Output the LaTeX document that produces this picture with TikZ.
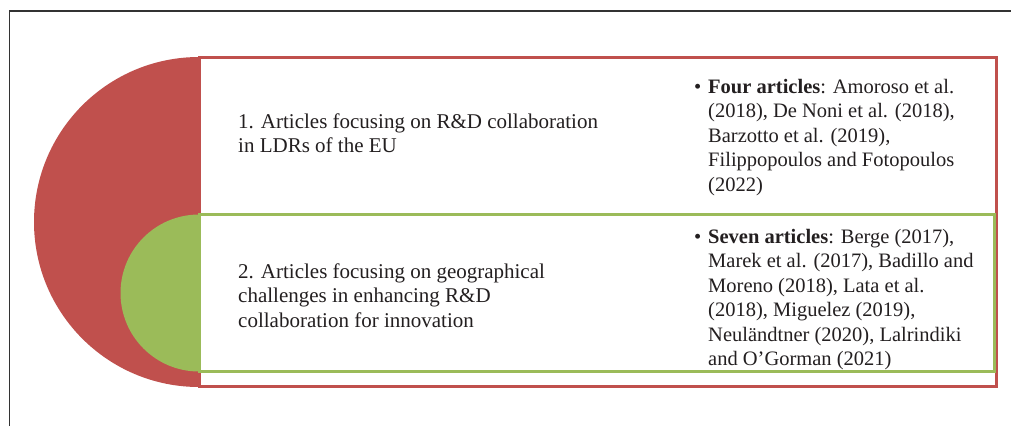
\documentclass[tikz,border=0pt]{standalone}
\usepackage{fontspec}
\setmainfont{Liberation Serif}
\definecolor{cred}{HTML}{C0504D}
\definecolor{cgreen}{HTML}{9BBB59}
\definecolor{ctext}{HTML}{231F20}
\definecolor{cframe}{HTML}{333333}
\begin{document}
\begin{tikzpicture}[x=1pt,y=1pt,
  txt/.style={anchor=base west, inner sep=0pt, align=left, text=ctext,
    font=\fontsize{20.5}{24.5}\selectfont},
  ltxt/.style={txt, font=\fontsize{21}{24.5}\selectfont},
  frameline/.style={line width=1.8pt, draw=cframe},
  redbox/.style={draw=cred, line width=3pt, fill=white},
  greenbox/.style={draw=cgreen, line width=3pt, fill=white}
]
\useasboundingbox (0,0) rectangle (1011,-426);
\fill[white] (0,0) rectangle (1011,-426);
% outer frame
\coordinate (fbl) at (9.5,-426);
\coordinate (ftl) at (9.5,-11);
\coordinate (ftr) at (1011,-11);
\draw[frameline] (fbl) -- (ftl) -- (ftr);
% red half disc and box
\coordinate (rtop) at (199,-57);
\coordinate (rbr) at (996.5,-386.5);
\fill[cred] (rtop) arc[start angle=90, end angle=270, radius=165] -- cycle;
\draw[redbox] (rtop) rectangle (rbr);
% green half disc and box
\coordinate (gtop) at (199,-214.5);
\coordinate (gbr) at (994.5,-371.5);
\fill[cgreen] (gtop) arc[start angle=90, end angle=270, radius=78.5] -- cycle;
\draw[greenbox] (gtop) rectangle (gbr);
% texts (anchor = baseline of the last line)
\node[ltxt] (t1) at (238,-152.5) {1. Articles focusing on R\&D collaboration\\in LDRs of the EU};
\node[ltxt] (t2) at (238,-327) {2. Articles focusing on geographical\\challenges in enhancing R\&D\\collaboration for innovation};
\node[txt] (b1) at (694,-191) {\makebox[14pt][l]{\textbullet}\textbf{Four articles}: Amoroso et al.\\
\hspace*{14pt}(2018), De Noni et al. (2018),\\
\hspace*{14pt}Barzotto et al. (2019),\\
\hspace*{14pt}Filippopoulos and Fotopoulos\\
\hspace*{14pt}(2022)};
\node[txt] (b2) at (694,-365.5) {\makebox[14pt][l]{\textbullet}\textbf{Seven articles}: Berge (2017),\\
\hspace*{14pt}Marek et al. (2017), Badillo and\\
\hspace*{14pt}Moreno (2018), Lata et al.\\
\hspace*{14pt}(2018), Miguelez (2019),\\
\hspace*{14pt}Neuländtner (2020), Lalrindiki\\
\hspace*{14pt}and O’Gorman (2021)};
\end{tikzpicture}
\end{document}
